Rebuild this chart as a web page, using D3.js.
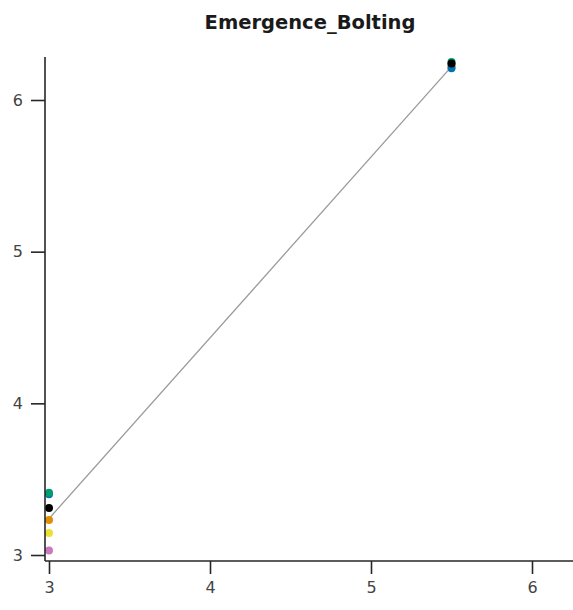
<!DOCTYPE html>
<html>
<head>
<meta charset="utf-8">
<script src="https://cdn.jsdelivr.net/npm/d3@7"></script>
<style>
  body { margin: 0; background: #fff; }
  svg { font-family: "DejaVu Sans", sans-serif; }
</style>
</head>
<body>
<svg id="chart" width="573" height="610"></svg>
<script>
// Chart data
var title = "Emergence_Bolting";
var groups = ["pink", "yellow", "orange", "blue", "green", "black"];
var groupColors = ["#cc78bc", "#ece133", "#de8f05", "#0173b2", "#029e73", "#000000"];
var xValues = [3, 5.5];
var yValues = [
    [3.03, 6.22],
    [3.145, 6.23],
    [3.23, 6.23],
    [3.40, 6.21],
    [3.41, 6.25],
    [3.31, 6.24]
];
// fitted line end points
var fitX = [3, 5.5];
var fitY = [3.24, 6.22];
var xTicks = [3, 4, 5, 6];
var yTicks = [3, 4, 5, 6];

var svg = d3.select("#chart");

// Scales (axes are offset from the data, seaborn style)
var x = d3.scaleLinear().domain([3, 6]).range([49, 532]);
var y = d3.scaleLinear().domain([3, 6]).range([555, 100]);

var axisLeft = 45, axisBottom = 561, axisTop = 57, axisRight = 573;

// Title
svg.append("text")
    .attr("x", 310)
    .attr("y", 29)
    .attr("text-anchor", "middle")
    .attr("font-weight", "bold")
    .attr("font-size", 19.5)
    .attr("fill", "#1a1a1a")
    .text(title);

// Fitted line
svg.append("line")
    .attr("x1", x(fitX[0])).attr("y1", y(fitY[0]))
    .attr("x2", x(fitX[1])).attr("y2", y(fitY[1]))
    .attr("stroke", "#9a9a9a")
    .attr("stroke-width", 1.3);

// Points, drawn one group at a time
groups.forEach(function (g, i) {
    svg.append("g")
        .selectAll("circle")
        .data(xValues.map(function (xv, j) { return [xv, yValues[i][j]]; }))
        .join("circle")
        .attr("cx", function (d) { return x(d[0]); })
        .attr("cy", function (d) { return y(d[1]); })
        .attr("r", 4)
        .attr("fill", groupColors[i]);
});

// Axes
var xAxis = d3.axisBottom(x).tickValues(xTicks).tickSize(13).tickPadding(8)
    .tickFormat(d3.format("d"));
var yAxis = d3.axisLeft(y).tickValues(yTicks).tickSize(14).tickPadding(8)
    .tickFormat(d3.format("d"));

var gx = svg.append("g").attr("transform", "translate(0," + axisBottom + ")").call(xAxis);
var gy = svg.append("g").attr("transform", "translate(" + axisLeft + ",0)").call(yAxis);

gx.select(".domain").attr("d", "M" + axisLeft + ",0H" + axisRight);
gy.select(".domain").attr("d", "M0," + axisTop + "V" + axisBottom);

[gx, gy].forEach(function (g) {
    g.selectAll(".domain").attr("stroke", "#262626").attr("stroke-width", 1.6);
    g.selectAll(".tick line").attr("stroke", "#262626").attr("stroke-width", 1.6);
    g.selectAll(".tick text")
        .attr("font-family", "DejaVu Sans, sans-serif")
        .attr("font-size", 16)
        .attr("fill", "#444");
});
</script>
</body>
</html>
